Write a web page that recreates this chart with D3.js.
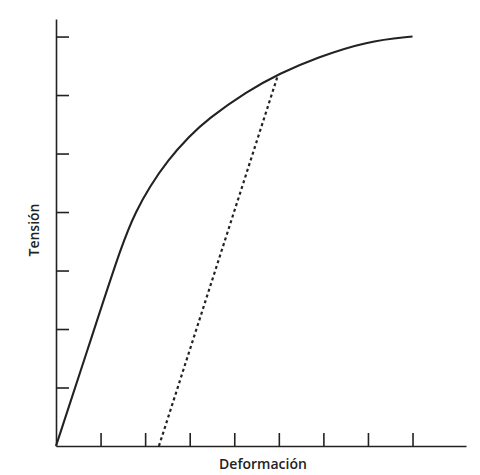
<!DOCTYPE html>
<html>
<head>
<meta charset="utf-8">
<script src="https://cdn.jsdelivr.net/npm/d3@7"></script>
<style>
  html, body { margin: 0; padding: 0; background: #fff; }
  svg { display: block; }
</style>
</head>
<body>
<div id="chart"></div>
<script>
// stress-strain curve (arbitrary units)
const strainVals = [0, 0.8, 1.5, 1.8, 2.1, 2.5, 3.0, 3.39, 4.28, 5.02, 5.85, 6.97, 8.0];
const stressVals = [0, 1.86, 3.5, 4.02, 4.43, 4.88, 5.3, 5.58, 6.06, 6.37, 6.64, 6.92, 7.0];
// unloading line (dotted), parallel to the elastic part
const unloadStrain = [2.31, 4.98];
const unloadStress = [0, 6.34];
const xTicks = [1, 2, 3, 4, 5, 6, 7, 8];
const yTicks = [1, 2, 3, 4, 5, 6, 7];
const xLabel = "Deformación";
const yLabel = "Tensión";

const W = 480, H = 475;
const m = { l: 56, r: 14, t: 19, b: 29 };
const ink = "#222";

const svg = d3.select("#chart").append("svg")
  .attr("width", W).attr("height", H);

const x = d3.scaleLinear().domain([0, 9.2]).range([m.l, W - m.r]);
const y = d3.scaleLinear().domain([0, 7.3]).range([H - m.b, m.t]);

// axes with inward ticks
const xAxis = d3.axisBottom(x).tickValues(xTicks).tickSize(-13).tickFormat("").tickSizeOuter(0);
const yAxis = d3.axisLeft(y).tickValues(yTicks).tickSize(-13).tickFormat("").tickSizeOuter(0);

const gx = svg.append("g").attr("transform", `translate(0,${y(0)})`).call(xAxis);
const gy = svg.append("g").attr("transform", `translate(${x(0)},0)`).call(yAxis);
[gx, gy].forEach(g => {
  g.select(".domain").attr("stroke", ink).attr("stroke-width", 1.6);
  g.selectAll(".tick line").attr("stroke", ink).attr("stroke-width", 1.6);
});

const curve = strainVals.map((s, i) => ({ s, t: stressVals[i] }));
const unload = unloadStrain.map((s, i) => ({ s, t: unloadStress[i] }));

const line = d3.line()
  .x(d => x(d.s))
  .y(d => y(d.t))
  .curve(d3.curveBasis);

svg.append("path")
  .datum(curve)
  .attr("fill", "none")
  .attr("stroke", ink)
  .attr("stroke-width", 2.1)
  .attr("d", line);

svg.append("path")
  .datum(unload)
  .attr("fill", "none")
  .attr("stroke", ink)
  .attr("stroke-width", 2.2)
  .attr("stroke-dasharray", "3 3")
  .attr("d", d3.line().x(d => x(d.s)).y(d => y(d.t)));

svg.append("text")
  .attr("x", 263)
  .attr("y", 469)
  .attr("text-anchor", "middle")
  .attr("font-family", "'Open Sans', 'DejaVu Sans', sans-serif")
  .attr("font-size", 14)
  .attr("font-weight", 600)
  .attr("fill", ink)
  .text(xLabel);

svg.append("text")
  .attr("transform", "translate(39,230) rotate(-90)")
  .attr("text-anchor", "middle")
  .attr("font-family", "'Open Sans', 'DejaVu Sans', sans-serif")
  .attr("font-size", 14)
  .attr("font-weight", 600)
  .attr("fill", ink)
  .text(yLabel);
</script>
</body>
</html>
